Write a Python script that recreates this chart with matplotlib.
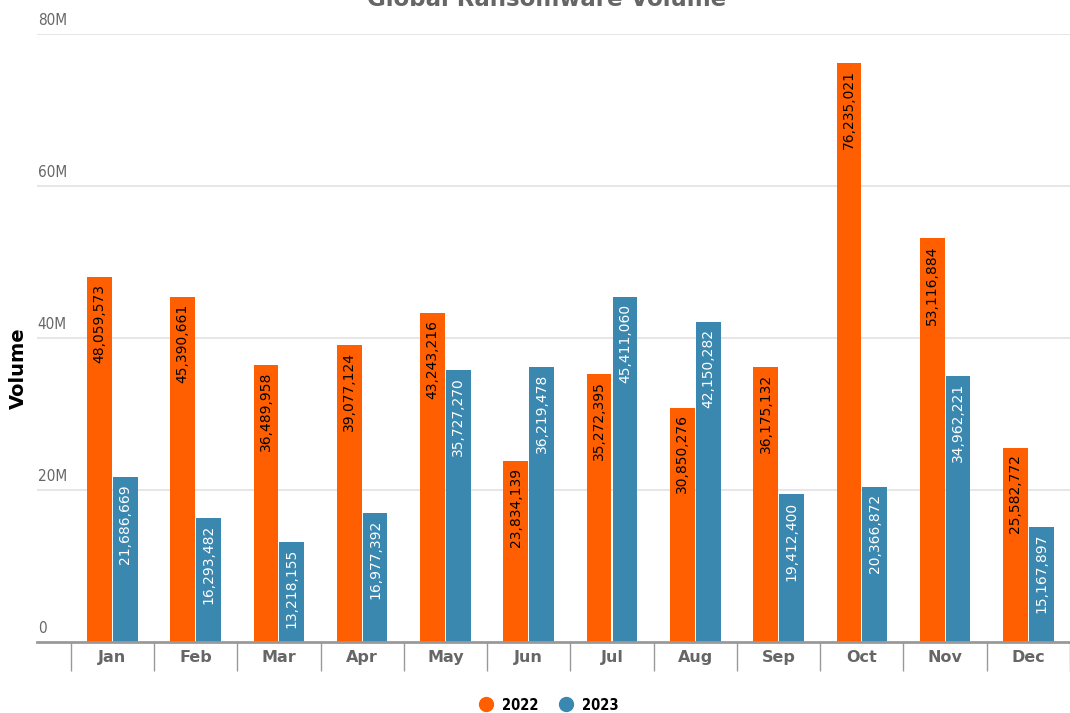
import matplotlib
matplotlib.use("Agg")
import matplotlib.pyplot as plt
from matplotlib.lines import Line2D
import matplotlib.transforms as mtransforms

months = ["Jan", "Feb", "Mar", "Apr", "May", "Jun", "Jul", "Aug", "Sep", "Oct", "Nov", "Dec"]
vol_2022 = [48059573, 45390661, 36489958, 39077124, 43243216, 23834139,
            35272395, 30850276, 36175132, 76235021, 53116884, 25582772]
vol_2023 = [21686669, 16293482, 13218155, 16977392, 35727270, 36219478,
            45411060, 42150282, 19412400, 20366872, 34962221, 15167897]
series_names = ["2022", "2023"]
y_ticks = [0, 20e6, 40e6, 60e6, 80e6]
y_tick_labels = ["0", "20M", "40M", "60M", "80M"]

c2022 = "#FF5F00"
c2023 = "#3A87B0"

W, H = 1070, 713
fig = plt.figure(figsize=(W / 100, H / 100), dpi=100)
ax = fig.add_axes([37 / W, 71 / H, (W - 37) / W, 608 / H])

n = len(months)
xs = list(range(n))
bw = 0.297
off = 0.155
ax.bar([x - off for x in xs], vol_2022, width=bw, color=c2022, zorder=3)
ax.bar([x + off for x in xs], vol_2023, width=bw, color=c2023, zorder=3)

for x, v in zip(xs, vol_2022):
    ax.annotate(f"{v:,}", xy=(x - off, v), xytext=(0, -5), textcoords="offset points",
                rotation=90, ha="center", va="top", fontsize=10, color="black",
                zorder=4)
for x, v in zip(xs, vol_2023):
    ax.annotate(f"{v:,}", xy=(x + off, v), xytext=(0, -5), textcoords="offset points",
                rotation=90, ha="center", va="top", fontsize=10, color="white",
                zorder=4)

ax.set_xlim(-0.905, 11.39)
ax.set_ylim(0, 80e6)

# grid
for yv in y_ticks[1:]:
    ax.axhline(yv, color="#e4e4e4", lw=1.3, zorder=1)
ax.set_yticks([])
trans = mtransforms.blended_transform_factory(ax.transAxes, ax.transData)
for yv, lab in zip(y_ticks, y_tick_labels):
    ax.annotate(lab, xy=(0, yv), xycoords=trans, xytext=(0.5, 4), textcoords="offset points",
                ha="left", va="bottom", fontsize=11, color="#666666",
                fontstretch="condensed")

for s in ["left", "right", "top"]:
    ax.spines[s].set_visible(False)
ax.spines["bottom"].set_color("#999999")
ax.spines["bottom"].set_linewidth(2)
ax.spines["bottom"].set_zorder(5)

ax.set_xticks(xs)
ax.set_xticklabels(months, fontsize=11.5, fontweight="bold", color="#666666")
ax.tick_params(axis="x", which="major", length=0, pad=6)
ax.set_xticks([x - 0.5 for x in range(n + 1)], minor=True)
ax.tick_params(axis="x", which="minor", length=21, width=1, color="#999999")

fig.text(18 / W, 1 - 368 / H, "Volume", rotation=90, ha="center", va="center",
         fontsize=14, fontweight="bold", color="black")
fig.text(547 / W, 1 + 1 / H, "Global Ransomware Volume", ha="center", va="center",
         fontsize=16.5, fontweight="bold", color="#666666")

handles = [Line2D([], [], marker="o", ls="", color=c2022, markersize=10),
           Line2D([], [], marker="o", ls="", color=c2023, markersize=10)]
fig.legend(handles, series_names, loc="center", bbox_to_anchor=(545 / W, 1 - 705 / H),
           ncol=2, frameon=False, handletextpad=0.1, columnspacing=0.9,
           prop={"weight": "bold", "size": 10.5, "stretch": "condensed"})

fig.savefig("out.png", dpi=100)
